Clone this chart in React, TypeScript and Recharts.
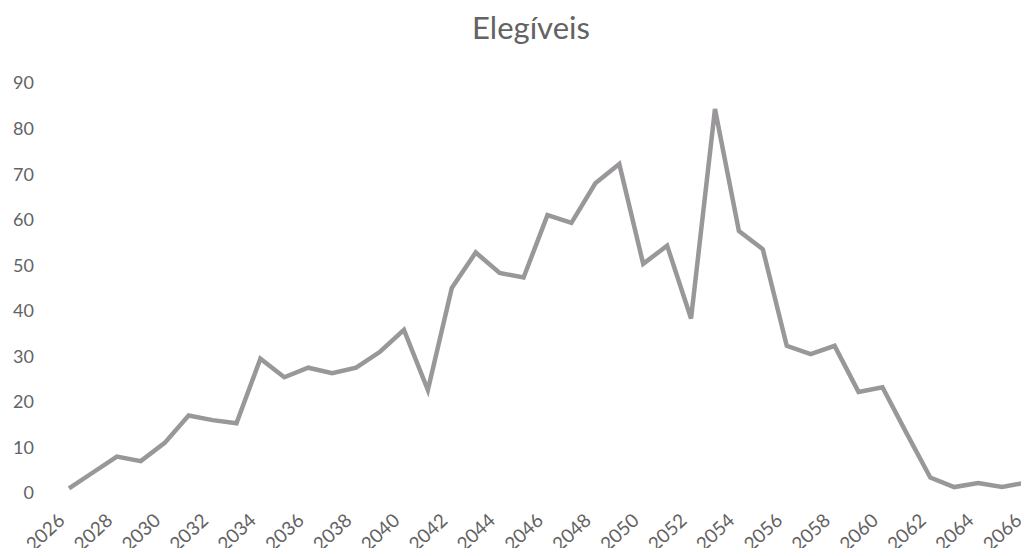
import { LineChart, Line, XAxis, YAxis } from 'recharts'

const years = [
    2026, 2027, 2028, 2029, 2030, 2031, 2032, 2033, 2034, 2035,
    2036, 2037, 2038, 2039, 2040, 2041, 2042, 2043, 2044, 2045,
    2046, 2047, 2048, 2049, 2050, 2051, 2052, 2053, 2054, 2055,
    2056, 2057, 2058, 2059, 2060, 2061, 2062, 2063, 2064, 2065, 2066,
]

const elegiveis = [
    1, 4.5, 8, 7, 11, 17, 16, 15.3, 29.5, 25.4,
    27.5, 26.3, 27.5, 31, 35.8, 22.6, 45, 52.8, 48.3, 47.3,
    61, 59.3, 68, 72.2, 50.3, 54.3, 38.3, 84.3, 57.5, 53.5,
    32.3, 30.5, 32.3, 22.2, 23.2, 13.2, 3.4, 1.3, 2.2, 1.3, 2.3,
]

const yTicks = [0, 10, 20, 30, 40, 50, 60, 70, 80, 90]

const data = years.map((y, i) => ({ year: String(y), value: elegiveis[i] }))

const FONT = 'Lato, "Open Sans", sans-serif'
const TEXT = '#636363'

const YearTick = (props: any) => {
    const { x, y, payload } = props
    return (
        <g transform={`translate(${x - 3},${y + 27})`}>
            <text x={0} y={0} textAnchor="end" fill={TEXT} fontSize={19} fontFamily={FONT} transform="rotate(-43)">
                {payload.value}
            </text>
        </g>
    )
}

const App = () => {
    return (
        <div style={{ position: 'relative', width: 1029, height: 556, margin: -8, background: '#fff' }}>
            <div style={{ position: 'absolute', left: 431, width: 200, top: 8, textAlign: 'center', fontFamily: FONT, fontSize: 31, color: TEXT }}>
                Elegíveis
            </div>
            <LineChart width={1029} height={556} data={data} margin={{ top: 83, right: 3, bottom: 0, left: 0 }}>
                <XAxis dataKey="year" interval={1} axisLine={false} tickLine={false} tickSize={0} height={63} tick={<YearTick />} />
                <YAxis
                    domain={[0, 90]}
                    ticks={yTicks}
                    width={69}
                    axisLine={false}
                    tickLine={false}
                    tickSize={0}
                    tickMargin={35}
                    tick={{ fill: TEXT, fontSize: 18, fontFamily: FONT }}
                />
                <Line dataKey="value" stroke="#9a979a" strokeWidth={4.5} dot={false} isAnimationActive={false} strokeLinejoin="miter" />
            </LineChart>
        </div>
    )
}

export default App
